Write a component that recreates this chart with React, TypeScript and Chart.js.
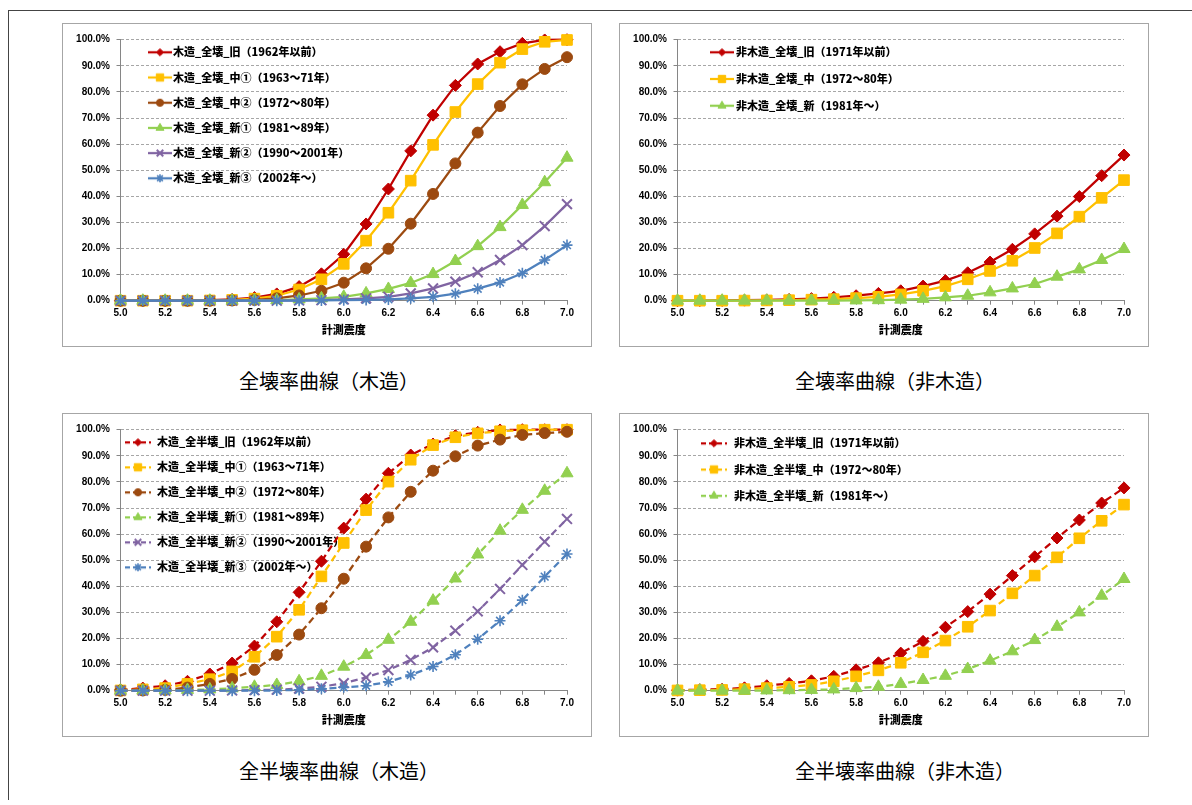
import React, { useEffect, useRef } from 'react';
import { Chart, registerables } from 'chart.js';
import { drawPoint } from 'chart.js/helpers';

Chart.register(...registerables);

// ---------- data ----------
const categories = [
  '5.0', '5.1', '5.2', '5.3', '5.4', '5.5', '5.6', '5.7', '5.8', '5.9', '6.0',
  '6.1', '6.2', '6.3', '6.4', '6.5', '6.6', '6.7', '6.8', '6.9', '7.0',
];
const xAxisTitle = '計測震度';

// 全壊率 木造 (%)
const woodTotalOld = [0, 0, 0, 0.1, 0.2, 0.5, 1.2, 2.6, 5.4, 10.3, 17.8, 29.4, 42.8, 57.4, 71.1, 82.5, 90.7, 95.4, 98.6, 99.9, 100];
const woodTotalMid1 = [0, 0, 0, 0, 0.1, 0.3, 0.8, 1.9, 4.3, 8.2, 14.1, 23.0, 33.7, 46.0, 59.7, 72.3, 83.0, 91.2, 96.4, 99.2, 99.9];
const woodTotalMid2 = [0, 0, 0, 0, 0, 0.1, 0.3, 0.9, 2.0, 3.8, 6.9, 12.4, 19.9, 29.5, 40.9, 52.6, 64.4, 74.6, 82.9, 88.8, 93.3];
const woodTotalNew1 = [0, 0, 0, 0, 0, 0, 0.1, 0.2, 0.5, 0.9, 1.5, 2.8, 4.5, 6.8, 10.2, 15.2, 20.9, 28.2, 36.7, 45.4, 54.8];
const woodTotalNew2 = [0, 0, 0, 0, 0, 0, 0, 0, 0.1, 0.2, 0.5, 0.9, 1.5, 2.8, 4.7, 7.3, 10.9, 15.6, 21.3, 28.6, 37.0];
const woodTotalNew3 = [0, 0, 0, 0, 0, 0, 0, 0, 0, 0.1, 0.2, 0.3, 0.5, 0.9, 1.5, 2.7, 4.6, 7.0, 10.5, 15.6, 21.3];

// 全壊率 非木造 (%)
const nonWoodTotalOld = [0, 0.05, 0.1, 0.2, 0.3, 0.5, 0.8, 1.3, 1.9, 2.8, 3.8, 5.6, 7.7, 10.7, 14.8, 19.7, 25.6, 32.4, 39.9, 47.9, 55.8];
const nonWoodTotalMid = [0, 0, 0, 0.05, 0.1, 0.2, 0.4, 0.6, 1.0, 1.5, 2.4, 3.8, 5.6, 8.2, 11.4, 15.3, 20.2, 25.8, 32.2, 39.4, 46.2];
const nonWoodTotalNew = [0, 0, 0, 0, 0, 0, 0, 0.05, 0.1, 0.2, 0.4, 0.7, 1.3, 1.9, 3.2, 4.7, 6.4, 9.2, 12.0, 15.6, 19.8];

// 全半壊率 木造 (%)
const woodHalfOld = [0.3, 1.0, 1.9, 3.6, 6.4, 10.6, 17.1, 26.4, 37.7, 49.6, 62.3, 73.4, 83.3, 90.3, 94.5, 97.7, 99.0, 99.9, 100, 100, 100];
const woodHalfMid1 = [0.1, 0.5, 1.0, 2.6, 4.4, 7.4, 13.0, 20.7, 31.0, 43.8, 56.6, 69.2, 80.1, 88.5, 94.1, 97.1, 98.6, 99.4, 99.8, 100, 100];
const woodHalfMid2 = [0, 0.1, 0.3, 1.2, 2.6, 4.5, 8.0, 13.7, 21.5, 31.6, 42.9, 55.2, 66.4, 76.2, 84.3, 89.8, 93.9, 96.2, 98.0, 98.7, 99.2];
const woodHalfNew1 = [0, 0.05, 0.1, 0.3, 0.5, 0.9, 1.5, 2.2, 3.6, 5.7, 9.2, 13.7, 19.5, 26.4, 34.5, 43.0, 52.2, 61.3, 69.3, 76.6, 83.3];
const woodHalfNew2 = [0, 0, 0, 0, 0, 0.1, 0.2, 0.4, 0.8, 1.5, 2.9, 5.1, 7.9, 11.8, 16.6, 23.0, 30.4, 39.0, 48.2, 57.1, 65.8];
const woodHalfNew3 = [0, 0, 0, 0, 0, 0, 0, 0.1, 0.3, 0.7, 1.3, 1.9, 3.4, 6.0, 9.3, 13.8, 19.7, 26.8, 34.7, 43.7, 52.4];

// 全半壊率 非木造 (%)
const nonWoodHalfOld = [0.2, 0.4, 0.6, 1.1, 1.9, 2.8, 3.8, 5.5, 8.0, 10.7, 14.4, 18.9, 24.3, 30.3, 37.0, 44.1, 51.3, 58.5, 65.4, 71.9, 77.7];
const nonWoodHalfMid = [0.1, 0.2, 0.3, 0.6, 1.0, 1.5, 2.2, 3.6, 5.5, 7.8, 10.7, 14.7, 19.2, 24.5, 30.7, 37.3, 44.1, 51.1, 58.4, 65.1, 71.3];
const nonWoodHalfNew = [0, 0, 0, 0, 0.1, 0.2, 0.3, 0.5, 1.0, 1.5, 2.6, 4.1, 5.7, 8.3, 11.5, 15.1, 19.4, 24.5, 30.0, 36.4, 42.8];

const woodTotalLabels = [
  '木造_全壊_旧（1962年以前）',
  '木造_全壊_中①（1963～71年）',
  '木造_全壊_中②（1972～80年）',
  '木造_全壊_新①（1981～89年）',
  '木造_全壊_新②（1990～2001年）',
  '木造_全壊_新③（2002年～）',
];
const nonWoodTotalLabels = [
  '非木造_全壊_旧（1971年以前）',
  '非木造_全壊_中（1972～80年）',
  '非木造_全壊_新（1981年～）',
];
const woodHalfLabels = [
  '木造_全半壊_旧（1962年以前）',
  '木造_全半壊_中①（1963～71年）',
  '木造_全半壊_中②（1972～80年）',
  '木造_全半壊_新①（1981～89年）',
  '木造_全半壊_新②（1990～2001年）',
  '木造_全半壊_新③（2002年～）',
];
const nonWoodHalfLabels = [
  '非木造_全半壊_旧（1971年以前）',
  '非木造_全半壊_中（1972～80年）',
  '非木造_全半壊_新（1981年～）',
];

const captions = ['全壊率曲線（木造）', '全壊率曲線（非木造）', '全半壊率曲線（木造）', '全半壊率曲線（非木造）'];

// ---------- styles ----------
const RED = '#C00000';
const YELLOW = '#FFC000';
const BROWN = '#9C4A10';
const GREEN = '#92D050';
const PURPLE = '#8064A2';
const BLUE = '#4F81BD';

type MarkerKey = 'diamond' | 'square' | 'circle' | 'triangle' | 'x' | 'star';
const markerStyle: Record<MarkerKey, { style: string; r: number; bw: number; lr: number }> = {
  diamond: { style: 'rectRot', r: 6, bw: 1, lr: 3.6 },
  square: { style: 'rect', r: 7.5, bw: 1, lr: 5.2 },
  circle: { style: 'circle', r: 5.5, bw: 1, lr: 3.6 },
  triangle: { style: 'triangle', r: 7, bw: 1, lr: 4.6 },
  x: { style: 'crossRot', r: 7, bw: 2, lr: 4.6 },
  star: { style: 'star', r: 5.5, bw: 1.6, lr: 4 },
};

type Series = { label: string; data: number[]; color: string; marker: MarkerKey };
type LegendCfg = { x: number; y: number; gap: number; pw: number; sw: number };

const colorsSix = [RED, YELLOW, BROWN, GREEN, PURPLE, BLUE];
const markersSix: MarkerKey[] = ['diamond', 'square', 'circle', 'triangle', 'x', 'star'];
const colorsThree = [RED, YELLOW, GREEN];
const markersThree: MarkerKey[] = ['diamond', 'square', 'triangle'];

function build(labels: string[], data: number[][], colors: string[], markers: MarkerKey[]): Series[] {
  return labels.map((label, i) => ({ label, data: data[i], color: colors[i], marker: markers[i] }));
}

const chart1 = build(woodTotalLabels, [woodTotalOld, woodTotalMid1, woodTotalMid2, woodTotalNew1, woodTotalNew2, woodTotalNew3], colorsSix, markersSix);
const chart2 = build(nonWoodTotalLabels, [nonWoodTotalOld, nonWoodTotalMid, nonWoodTotalNew], colorsThree, markersThree);
const chart3 = build(woodHalfLabels, [woodHalfOld, woodHalfMid1, woodHalfMid2, woodHalfNew1, woodHalfNew2, woodHalfNew3], colorsSix, markersSix);
const chart4 = build(nonWoodHalfLabels, [nonWoodHalfOld, nonWoodHalfMid, nonWoodHalfNew], colorsThree, markersThree);

const CW = 528;
const CH = 322;
const TICK_FONT = { family: '"Liberation Sans", Arial, sans-serif', size: 10, weight: 'bold' as const };
const CJK_FONT = '"Noto Sans CJK JP", "Noto Sans", sans-serif';

function makeLegendImage(s: Series, dashed: boolean, width: number): HTMLCanvasElement {
  const c = document.createElement('canvas');
  c.width = width;
  c.height = 12;
  const ctx = c.getContext('2d')!;
  ctx.strokeStyle = s.color;
  ctx.lineWidth = 2.25;
  if (dashed) ctx.setLineDash([5, 3]);
  ctx.beginPath();
  ctx.moveTo(0, 6);
  ctx.lineTo(width, 6);
  ctx.stroke();
  ctx.setLineDash([]);
  const m = markerStyle[s.marker];
  ctx.fillStyle = s.color;
  ctx.strokeStyle = s.color;
  ctx.lineWidth = m.bw;
  drawPoint(ctx, { pointStyle: m.style as any, radius: m.lr, borderWidth: m.bw, rotation: 0 } as any, width / 2, 6);
  return c;
}

function LineChart({ series, dashed, legend }: { series: Series[]; dashed: boolean; legend: LegendCfg }) {
  const ref = useRef<HTMLCanvasElement>(null);
  useEffect(() => {
    const images = series.map((s) => makeLegendImage(s, dashed, legend.sw));
    const pad = legend.gap - 11;
    const n = series.length;
    const chart = new Chart(ref.current!, {
      type: 'line',
      data: {
        labels: categories,
        datasets: series.map((s, i) => {
          const m = markerStyle[s.marker];
          return {
            label: s.label,
            data: s.data,
            borderColor: s.color,
            backgroundColor: s.color,
            borderWidth: 2.25,
            borderDash: dashed ? [7, 4] : [],
            pointStyle: m.style as any,
            pointRadius: m.r,
            pointHoverRadius: m.r,
            pointBorderWidth: m.bw,
            pointBackgroundColor: s.color,
            pointBorderColor: s.color,
            tension: 0,
            clip: false as any,
            order: n - i,
          };
        }),
      },
      options: {
        animation: false,
        responsive: false,
        maintainAspectRatio: false,
        events: [],
        layout: { padding: { left: 0, right: 24, top: 15.7, bottom: 0 } },
        scales: {
          x: {
            type: 'category',
            offset: false,
            grid: { display: true, drawOnChartArea: false, drawTicks: true, tickLength: 4, tickColor: '#868686', tickWidth: 1 },
            border: { display: true, color: '#868686', width: 1 },
            ticks: {
              autoSkip: false,
              maxRotation: 0,
              minRotation: 0,
              padding: 3,
              color: '#000',
              font: TICK_FONT,
              callback: (_v: any, i: number) => (i % 2 === 0 ? categories[i] : ''),
            },
            title: {
              display: true,
              text: xAxisTitle,
              color: '#000',
              font: { family: CJK_FONT, size: 11, weight: '900' as any },
              padding: { top: 0, bottom: 9.4 },
            },
            afterFit: (s: any) => {
              s.height = 45.3;
            },
          },
          y: {
            min: 0,
            max: 100,
            ticks: {
              stepSize: 10,
              padding: 6.5,
              color: '#000',
              font: TICK_FONT,
              callback: (v: any) => Number(v).toFixed(1) + '%',
            },
            grid: { color: '#a6a6a6', lineWidth: 1, drawTicks: true, tickLength: 4, tickColor: '#868686', tickBorderDash: [] },
            border: { display: true, color: '#868686', width: 1, dash: [3, 2] },
            afterFit: (s: any) => {
              s.width = 57.5;
            },
          },
        },
        plugins: {
          tooltip: { enabled: false },
          legend: {
            display: true,
            position: 'chartArea' as any,
            align: 'start',
            labels: {
              usePointStyle: true,
              pointStyleWidth: legend.pw,
              padding: pad,
              color: '#000',
              font: { family: CJK_FONT, size: 11, weight: '900' as any },
              generateLabels: () =>
                series.map((s, i) => ({
                  text: s.label,
                  pointStyle: images[i] as any,
                  fillStyle: s.color,
                  strokeStyle: s.color,
                  lineWidth: 0,
                  hidden: false,
                  datasetIndex: i,
                  fontColor: '#000',
                })),
            },
          },
        },
      },
      plugins: [
        {
          id: 'legendPlacement',
          beforeDraw(c: any) {
            const lg = c.legend;
            if (!lg) return;
            lg.left = legend.x - pad;
            lg.top = legend.y - pad - 5.5;
          },
        },
      ],
    });
    return () => chart.destroy();
  }, []);
  return <canvas ref={ref} width={CW} height={CH} style={{ display: 'block', width: CW, height: CH }} />;
}

const boxStyle = (left: number, top: number): React.CSSProperties => ({
  position: 'absolute',
  left,
  top,
  width: CW,
  height: CH,
  border: '1px solid #a6a6a6',
  background: '#fff',
});

const captionStyle = (left: number, top: number): React.CSSProperties => ({
  position: 'absolute',
  left,
  top,
  fontFamily: CJK_FONT,
  fontSize: 20,
  lineHeight: '20px',
  color: '#000',
  whiteSpace: 'nowrap',
});

export default function App() {
  return (
    <div style={{ position: 'fixed', left: 0, top: 0, width: 1192, height: 805, background: '#fff', overflow: 'hidden' }}>
      <div style={{ position: 'absolute', left: 8, top: 10, width: 1184, height: 0, borderTop: '1.5px solid #444' }} />
      <div style={{ position: 'absolute', left: 8, top: 10, width: 0, height: 790, borderLeft: '1.5px solid #444' }} />

      <div style={boxStyle(62, 23)}>
        <LineChart series={chart1} dashed={false} legend={{ x: 89.5, y: 28.3, gap: 25.2, pw: 15, sw: 24 }} />
      </div>
      <div style={boxStyle(619, 23)}>
        <LineChart series={chart2} dashed={false} legend={{ x: 93.5, y: 28.3, gap: 26.7, pw: 17, sw: 24 }} />
      </div>
      <div style={boxStyle(62, 413)}>
        <LineChart series={chart3} dashed={true} legend={{ x: 61.5, y: 28.3, gap: 25, pw: 27, sw: 26 }} />
      </div>
      <div style={boxStyle(619, 413)}>
        <LineChart series={chart4} dashed={true} legend={{ x: 79.5, y: 29.3, gap: 26.2, pw: 29, sw: 26 }} />
      </div>

      <div style={captionStyle(239, 371)}>{captions[0]}</div>
      <div style={captionStyle(795, 371)}>{captions[1]}</div>
      <div style={captionStyle(239, 761)}>{captions[2]}</div>
      <div style={captionStyle(795, 761)}>{captions[3]}</div>
    </div>
  );
}
